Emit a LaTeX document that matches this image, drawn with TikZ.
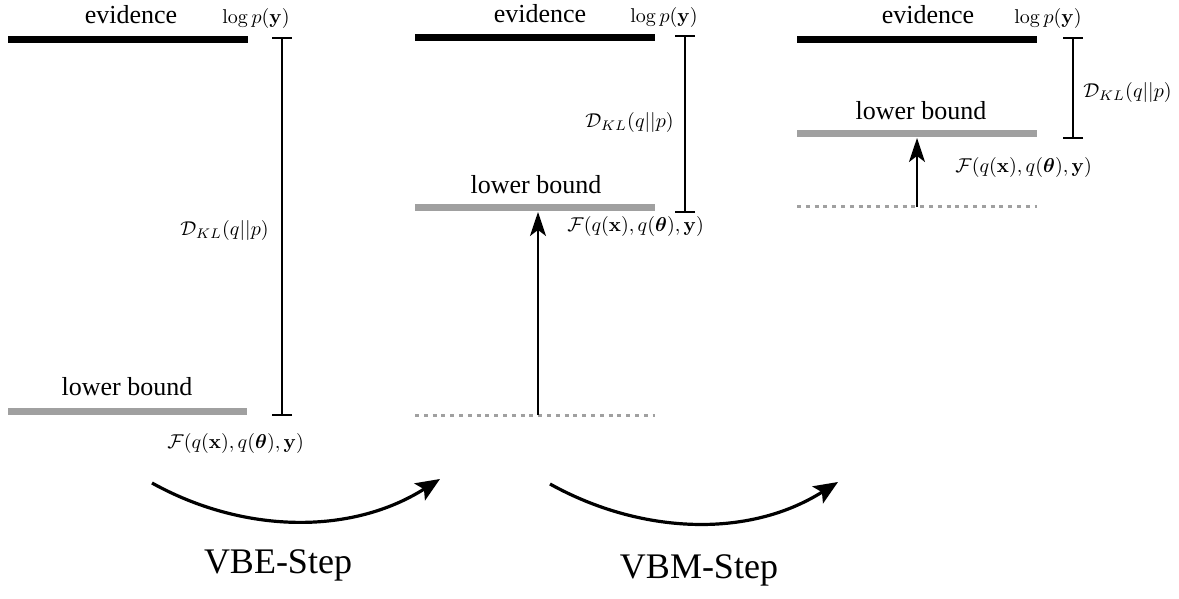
\documentclass[tikz,border=0pt]{standalone}
\usepackage{amsmath}
\usepackage[no-math]{fontspec}
\setmainfont{Liberation Serif}
\usetikzlibrary{arrows.meta}
\definecolor{lbgray}{RGB}{160,160,160}
\definecolor{dotgray}{RGB}{160,160,160}
\tikzset{
  evline/.style={line width=3.5pt,black},
  lbline/.style={line width=3.5pt,lbgray},
  oldline/.style={line width=1.5pt,dotgray,dash pattern=on 2pt off 2.4pt},
  ibar/.style={line width=1pt,{Bar[width=10pt]}-{Bar[width=10pt]}},
  uparrow/.style={line width=1pt,-{Stealth[length=12pt,width=8pt,inset=3pt]}},
  steparrow/.style={line width=1.6pt,-{Stealth[length=12pt,width=10pt,inset=2.5pt]}},
  txt/.style={inner sep=0pt,anchor=base,font=\rmfamily\fontsize{13}{15}\selectfont},
  mth/.style={inner sep=0pt,font=\fontsize{10}{12}\selectfont},
  big/.style={inner sep=0pt,anchor=base,font=\rmfamily\fontsize{18}{21}\selectfont}
}
\begin{document}
\begin{tikzpicture}[x=0.5pt,y=-0.5pt]
\useasboundingbox (0,0) rectangle (1179,599);
% ---------- panel 1 ----------
\coordinate (e1l) at (8,40);   \coordinate (e1r) at (248,40);
\coordinate (l1l) at (8,411);  \coordinate (l1r) at (247,411);
\coordinate (k1t) at (282,37); \coordinate (k1b) at (282,416);
\draw[evline] (e1l) -- (e1r);
\draw[lbline] (l1l) -- (l1r);
\draw[ibar] (k1t) -- (k1b);
\node[txt] (ev1) at (131,24) {evidence};
\node[mth,anchor=base east] (lp1) at (290,24) {$\log p(\mathbf{y})$};
\node[mth,anchor=base west] (kl1) at (180,235) {$\mathcal{D}_{KL}(q||p)$};
\node[txt] (lb1) at (127,395) {lower bound};
\node[mth,anchor=base west] (f1) at (167,448) {$\mathcal{F}(q(\mathbf{x}),q(\boldsymbol{\theta}),\mathbf{y})$};
% ---------- panel 2 ----------
\coordinate (e2l) at (415,38);  \coordinate (e2r) at (655,38);
\coordinate (l2l) at (415,208); \coordinate (l2r) at (655,208);
\coordinate (o2l) at (415,415); \coordinate (o2r) at (655,415);
\coordinate (k2t) at (685,35);  \coordinate (k2b) at (685,213);
\coordinate (a2s) at (538,415); \coordinate (a2e) at (538,212);
\draw[evline] (e2l) -- (e2r);
\draw[lbline] (l2l) -- (l2r);
\draw[oldline] (o2l) -- (o2r);
\draw[ibar] (k2t) -- (k2b);
\draw[uparrow] (a2s) -- (a2e);
\node[txt] (ev2) at (540,23) {evidence};
\node[mth,anchor=base east] (lp2) at (698,23) {$\log p(\mathbf{y})$};
\node[mth,anchor=base west] (kl2) at (585,128) {$\mathcal{D}_{KL}(q||p)$};
\node[txt] (lb2) at (536,193) {lower bound};
\node[mth,anchor=base west] (f2) at (567,232) {$\mathcal{F}(q(\mathbf{x}),q(\boldsymbol{\theta}),\mathbf{y})$};
% ---------- panel 3 ----------
\coordinate (e3l) at (797,40);  \coordinate (e3r) at (1037,40);
\coordinate (l3l) at (797,134); \coordinate (l3r) at (1037,134);
\coordinate (o3l) at (797,207); \coordinate (o3r) at (1037,207);
\coordinate (k3t) at (1073,37); \coordinate (k3b) at (1073,139);
\coordinate (a3s) at (917,207); \coordinate (a3e) at (917,138);
\draw[evline] (e3l) -- (e3r);
\draw[lbline] (l3l) -- (l3r);
\draw[oldline] (o3l) -- (o3r);
\draw[ibar] (k3t) -- (k3b);
\draw[uparrow] (a3s) -- (a3e);
\node[txt] (ev3) at (928,24) {evidence};
\node[mth,anchor=base east] (lp3) at (1082,24) {$\log p(\mathbf{y})$};
\node[mth,anchor=base west] (kl3) at (1083,98) {$\mathcal{D}_{KL}(q||p)$};
\node[txt] (lb3) at (921,120) {lower bound};
\node[mth,anchor=base west] (f3) at (955,173) {$\mathcal{F}(q(\mathbf{x}),q(\boldsymbol{\theta}),\mathbf{y})$};
% ---------- step arrows ----------
\coordinate (s1a) at (152,483); \coordinate (s1b) at (440,479);
\coordinate (s2a) at (550,484); \coordinate (s2b) at (838,482);
\draw[steparrow] (s1a) .. controls (242,533) and (350,536) .. (s1b);
\draw[steparrow] (s2a) .. controls (640,534) and (748,539) .. (s2b);
\node[big] (vbe) at (278,573) {VBE-Step};
\node[big] (vbm) at (699,578) {VBM-Step};
\end{tikzpicture}
\end{document}
